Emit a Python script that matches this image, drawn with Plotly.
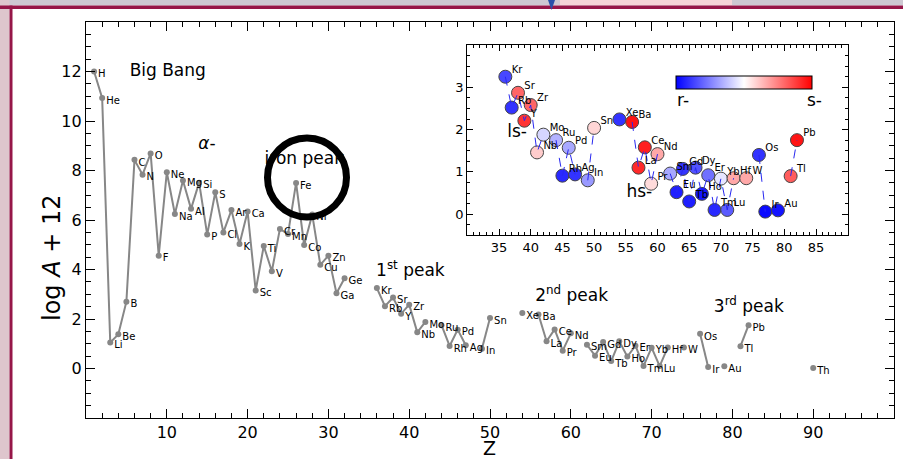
import plotly.graph_objects as go

# Solar photospheric abundances, log eps = log(N_X/N_H) + 12
elements = ["H", "He", "Li", "Be", "B", "C", "N", "O", "F", "Ne", "Na", "Mg", "Al", "Si",
            "P", "S", "Cl", "Ar", "K", "Ca", "Sc", "Ti", "V", "Cr", "Mn", "Fe", "Co", "Ni",
            "Cu", "Zn", "Ga", "Ge", "Kr", "Rb", "Sr", "Y", "Zr", "Nb", "Mo", "Ru", "Rh",
            "Pd", "Ag", "In", "Sn", "Xe", "Ba", "La", "Ce", "Pr", "Nd", "Sm", "Eu", "Gd",
            "Tb", "Dy", "Ho", "Er", "Tm", "Yb", "Lu", "Hf", "W", "Os", "Ir", "Au", "Tl",
            "Pb", "Th"]
atomic_z = [1, 2, 3, 4, 5, 6, 7, 8, 9, 10, 11, 12, 13, 14,
            15, 16, 17, 18, 19, 20, 21, 22, 23, 24, 25, 26, 27, 28,
            29, 30, 31, 32, 36, 37, 38, 39, 40, 41, 42, 44, 45,
            46, 47, 49, 50, 54, 56, 57, 58, 59, 60, 62, 63, 64,
            65, 66, 67, 68, 69, 70, 71, 72, 74, 76, 77, 79, 81,
            82, 90]
log_eps = [12.00, 10.93, 1.05, 1.38, 2.70, 8.43, 7.83, 8.69, 4.56, 7.93, 6.24, 7.60, 6.45, 7.51,
           5.41, 7.12, 5.50, 6.40, 5.03, 6.34, 3.15, 4.95, 3.93, 5.64, 5.43, 7.50, 4.99, 6.22,
           4.19, 4.56, 3.04, 3.65, 3.25, 2.52, 2.87, 2.21, 2.58, 1.46, 1.88, 1.75, 0.91,
           1.57, 0.94, 0.80, 2.04, 2.24, 2.18, 1.10, 1.58, 0.72, 1.42, 0.96, 0.52, 1.07,
           0.30, 1.10, 0.48, 0.92, 0.10, 0.84, 0.10, 0.85, 0.85, 1.40, 0.06, 0.09, 0.90,
           1.75, 0.02]

# s-process fraction (0 = pure r-, 1 = pure s-) for Kr ... Pb
s_fraction = [0.14, 0.10, 0.80, 0.90, 0.80, 0.60, 0.42, 0.35, 0.08,
              0.33, 0.10, 0.30, 0.58, 0.10, 0.96, 0.92, 0.94, 0.57, 0.67, 0.33, 0.06, 0.10,
              0.06, 0.16, 0.04, 0.22, 0.08, 0.45, 0.18, 0.67, 0.67, 0.10, 0.02, 0.04, 0.82,
              0.96]

region_labels = ["Big Bang", "<i>α</i>-", "iron peak", "1<sup>st</sup> peak",
                 "2<sup>nd</sup> peak", "3<sup>rd</sup> peak"]
region_x = [5.4, 13.9, 22.1, 35.9, 55.6, 77.7]
region_y = [12.0, 9.05, 8.42, 3.9, 2.9, 2.45]

FONT = "DejaVu Sans"
W, H = 903, 459
ML, MR, MT, MB = 86, 9, 22, 41
PW, PH = W - ML - MR, H - MT - MB


def px(xp):
    return (xp - ML) / PW


def py(yp):
    return (H - MB - yp) / PH


def with_gaps(zs, vals):
    """Insert None wherever consecutive Z values are not adjacent, so the line breaks."""
    gx, gy = [], []
    for i, (z, v) in enumerate(zip(zs, vals)):
        if i and z - zs[i - 1] > 1:
            gx.append(None)
            gy.append(None)
        gx.append(z)
        gy.append(v)
    return gx, gy


fig = go.Figure()

# main abundance curve
lx, ly = with_gaps(atomic_z, log_eps)
fig.add_trace(go.Scatter(x=lx, y=ly, mode="lines+markers",
                         line=dict(color="rgb(135,135,135)", width=2),
                         marker=dict(color="rgb(135,135,135)", size=6),
                         hoverinfo="skip", showlegend=False))
fig.add_trace(go.Scatter(x=[z + 0.5 for z in atomic_z], y=[v - 0.13 for v in log_eps],
                         mode="text", text=elements, textposition="middle right",
                         textfont=dict(family=FONT, size=10, color="black"),
                         hoverinfo="skip", showlegend=False))
fig.add_trace(go.Scatter(x=region_x, y=region_y, mode="text", text=region_labels,
                         textposition="middle right",
                         textfont=dict(family=FONT, size=17, color="black"),
                         hoverinfo="skip", showlegend=False))

# inset: neutron-capture elements coloured by s-process fraction
i0 = atomic_z.index(36)
i1 = atomic_z.index(82) + 1
in_z = atomic_z[i0:i1]
in_v = log_eps[i0:i1]
bwr = [[0.0, "rgb(0,0,255)"], [0.5, "rgb(255,255,255)"], [1.0, "rgb(255,0,0)"]]

fig.add_trace(go.Scatter(x=in_z, y=in_v, mode="markers", xaxis="x2", yaxis="y2",
                         marker=dict(size=13, color=s_fraction, colorscale=bwr, cmin=0, cmax=1,
                                     line=dict(color="rgb(70,70,70)", width=1),
                                     showscale=True,
                                     colorbar=dict(orientation="h", x=px(744), y=py(83.5),
                                                   xanchor="center", yanchor="middle",
                                                   len=136, lenmode="pixels", thickness=13,
                                                   xpad=0, ypad=0,
                                                   outlinecolor="black", outlinewidth=1,
                                                   showticklabels=False, ticks="")),
                         hoverinfo="skip", showlegend=False))
dx, dy = with_gaps(in_z, in_v)
fig.add_trace(go.Scatter(x=dx, y=dy, mode="lines", xaxis="x2", yaxis="y2",
                         line=dict(color="rgb(40,40,240)", width=1, dash="dash"),
                         hoverinfo="skip", showlegend=False))
fig.add_trace(go.Scatter(x=[z + 1.0 for z in atomic_z[i0:]], y=[v + 0.15 for v in log_eps[i0:]],
                         mode="text", text=elements[i0:], textposition="middle right",
                         xaxis="x2", yaxis="y2", cliponaxis=False,
                         textfont=dict(family=FONT, size=10, color="black"),
                         hoverinfo="skip", showlegend=False))
fig.add_trace(go.Scatter(x=[36.3, 55.1], y=[1.92, 0.5], mode="text", text=["ls-", "hs-"],
                         textposition="middle right", xaxis="x2", yaxis="y2",
                         textfont=dict(family=FONT, size=17, color="black"),
                         hoverinfo="skip", showlegend=False))

axis_common = dict(showline=True, linecolor="black", linewidth=1.2, mirror="allticks",
                   ticks="inside", tickcolor="black", showgrid=False, zeroline=False,
                   tickfont=dict(family=FONT, size=16, color="black"))

fig.update_layout(
    width=W, height=H,
    margin=dict(l=ML, r=MR, t=MT, b=MB),
    paper_bgcolor="white", plot_bgcolor="white",
    showlegend=False,
    xaxis=dict(axis_common, range=[0, 100], tickvals=list(range(10, 100, 10)),
               ticklen=9, tickwidth=1,
               minor=dict(dtick=2, tick0=0, ticks="inside", ticklen=5, tickcolor="black")),
    yaxis=dict(axis_common, range=[-2, 14], tickvals=list(range(0, 13, 2)),
               ticklen=9, tickwidth=1,
               minor=dict(dtick=0.5, tick0=0, ticks="inside", ticklen=5, tickcolor="black")),
    xaxis2=dict(axis_common, domain=[px(467.3), px(847.7)], anchor="y2", range=[30, 90],
                tickvals=list(range(35, 90, 5)),
                ticklen=6, tickfont=dict(family=FONT, size=13, color="black"),
                minor=dict(dtick=1, tick0=0, ticks="inside", ticklen=3, tickcolor="black")),
    yaxis2=dict(axis_common, domain=[py(235.3), py(45)], anchor="x2", range=[-0.5, 4],
                tickvals=[0, 1, 2, 3],
                ticklen=6, tickfont=dict(family=FONT, size=13, color="black"),
                minor=dict(dtick=0.25, tick0=0, ticks="inside", ticklen=3, tickcolor="black")),
)

# axis titles
fig.add_annotation(text="log <i>A</i> + 12", xref="paper", yref="paper", x=px(52), y=py(258),
                   xanchor="center", yanchor="middle", textangle=-90, showarrow=False,
                   font=dict(family=FONT, size=24, color="black"))
fig.add_annotation(text="Z", xref="paper", yref="paper", x=px(489), y=py(448),
                   xanchor="center", yanchor="middle", showarrow=False,
                   font=dict(family=FONT, size=19, color="black"))

# colour bar end labels
fig.add_annotation(text="r-", xref="paper", yref="paper", x=px(675), y=py(100),
                   xanchor="left", yanchor="middle",
                   showarrow=False, font=dict(family=FONT, size=17, color="black"))
fig.add_annotation(text="s-", xref="paper", yref="paper", x=px(824), y=py(100),
                   xanchor="right", yanchor="middle",
                   showarrow=False, font=dict(family=FONT, size=17, color="black"))

# ring highlighting the iron peak
fig.add_shape(type="circle", xref="x", yref="y", xsizemode="pixel", ysizemode="pixel",
              xanchor=27.35, yanchor=7.72, x0=-39.5, x1=39.5, y0=-39.5, y1=39.5,
              line=dict(color="black", width=7), layer="above")

# slide frame around the figure
frame = [
    dict(x0=0, x1=W, y0=0, y1=5.5, color="rgb(205,200,210)", layer="below"),
    dict(x0=560, x1=732, y0=0, y1=5.5, color="rgb(246,212,216)", layer="below"),
    dict(x0=0, x1=9.5, y0=0, y1=H, color="rgb(222,198,205)", layer="below"),
    dict(x0=0, x1=W, y0=5.5, y1=9, color="rgb(150,22,72)", layer="below"),
    dict(x0=12.5, x1=W, y0=452, y1=H, color="white", layer="above"),
    dict(x0=9.5, x1=12.5, y0=5.5, y1=H, color="rgb(150,22,72)", layer="above"),
]
for f in frame:
    fig.add_shape(type="rect", xref="paper", yref="paper",
                  x0=px(f["x0"]), x1=px(f["x1"]), y0=py(f["y1"]), y1=py(f["y0"]),
                  fillcolor=f["color"], line=dict(width=0), layer=f["layer"])
fig.add_shape(type="path", xref="paper", yref="paper",
              path=f"M {px(548)} {py(0)} L {px(555)} {py(0)} L {px(551.5)} {py(10)} Z",
              fillcolor="rgb(40,80,170)", line=dict(width=0), layer="above")

fig.write_html("out.html")
